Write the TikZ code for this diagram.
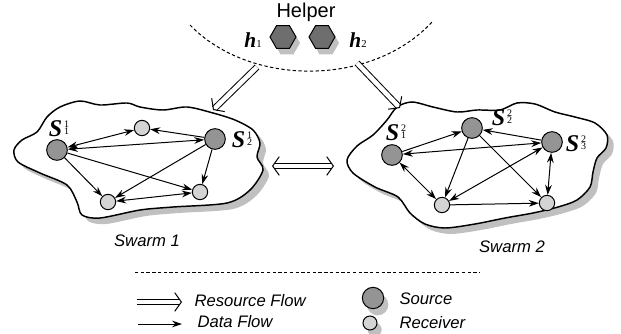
\documentclass[tikz,border=0pt]{standalone}
\usepackage{fontspec}
\setmainfont{Liberation Sans}
\newfontfamily\tnr{Liberation Serif}
\usetikzlibrary{arrows.meta,shapes.geometric,shadows,calc}

\definecolor{srcgray}{RGB}{148,148,148}
\definecolor{rcvgray}{RGB}{212,212,212}
\definecolor{hexgray}{RGB}{110,110,110}
\definecolor{shdgray}{RGB}{192,192,192}

\newcommand{\slab}[2]{{\tnr\fontsize{18}{18}\selectfont\bfseries\itshape S}\kern1.5pt{\tnr\fontsize{7.5}{7.5}\selectfont\raisebox{7pt}{\rlap{#1}}\raisebox{1.5pt}{#2}}}
\newcommand{\hlab}[1]{{\tnr\fontsize{16}{16}\selectfont\bfseries\itshape h}{\tnr\fontsize{8}{8}\selectfont #1}}
% open head of a resource flow arrow, pointing from #1 to #2
\newcommand{\reshead}[2]{\draw[white,-{Straight Barb[length=5pt,width=14pt,color=black]}] ($(#2)!6pt!(#1)$) -- (#2);}

\tikzset{every picture/.style={line width=0.75pt}}
\tikzset{
  source/.style={circle,draw,fill=srcgray,inner sep=0pt,minimum size=15.5pt},
  receiver/.style={circle,draw,fill=rcvgray,inner sep=0pt,minimum size=11.5pt},
  dataflow/.style={-{Stealth[length=7.5pt,width=5pt]}},
  bidataflow/.style={{Stealth[length=7.5pt,width=5pt]}-{Stealth[length=7.5pt,width=5pt]}},
  resflow/.style={double,double distance=3.4pt,shorten >=1.5pt},
  swarm/.style={draw,line width=1.1pt,fill=white,preaction={fill=shdgray,transform canvas={shift={(4.5pt,-4.5pt)}}}},
  hexa/.style={regular polygon,regular polygon sides=6,draw,fill=hexgray,inner sep=0pt,minimum size=19.5pt,general shadow={fill=shdgray,shadow xshift=3pt,shadow yshift=-4.5pt}},
  legshadow/.style={general shadow={fill=shdgray,shadow xshift=3.5pt,shadow yshift=-5pt}},
  dotline/.style={dash pattern=on 2.5pt off 1.8pt},
  caption/.style={inner sep=0.75pt,font=\fontsize{12.5}{12.5}\selectfont\itshape}
}

\begin{document}
\begin{tikzpicture}[x=0.75pt,y=0.75pt,yscale=-1,xscale=1]
\useasboundingbox (0,0) rectangle (621,333);

%Curve Lines: helper boundary
\draw[dotline] (190,25) .. controls (250,87) and (372,87) .. (432,22);
% Text Node
\node[inner sep=0.75pt,font=\fontsize{15}{15}\selectfont] (helper) at (306,12) {Helper};
%Shape: Hexagon
\node[hexa] (hexA) at (283,37) {};
%Shape: Hexagon
\node[hexa] (hexB) at (322,37) {};
% Text Node
\node[inner sep=0.75pt] (labH1) at (253,40) {\hlab{1}};
% Text Node
\node[inner sep=0.75pt] (labH2) at (358,40) {\hlab{2}};

%Shape: Swarm 1
\draw[swarm] plot[smooth cycle] coordinates {(60,107) (80,101) (100,105) (127,103) (140,107) (163,110) (187,107) (213,113) (235,120) (253,130) (260,143) (257,157) (263,170) (250,190) (227,203) (173,207) (140,210) (100,218) (82,215) (77,202) (67,185) (40,173) (18,162) (14,150) (22,140) (37,132) (47,117)};
%Shape: Swarm 2
\draw[swarm] plot[smooth cycle] coordinates {(397,107) (412,102) (433,107) (457,112) (477,110) (500,110) (517,103) (535,104) (555,112) (575,117) (595,123) (607,135) (606,148) (597,158) (593,172) (590,187) (577,200) (558,207) (533,213) (505,218) (475,224) (445,228) (425,224) (410,213) (398,197) (375,187) (353,173) (347,160) (357,146) (373,135) (387,120)};

%Shape: Circle
\node[source] (s11) at (57,150) {};
\node[receiver] (r11) at (142,128) {};
\node[source] (s12) at (215,139) {};
\node[receiver] (r12) at (108,202) {};
\node[receiver] (r13) at (200,192) {};
%Shape: Circle
\node[source] (s21) at (392,155) {};
\node[source] (s22) at (472,128) {};
\node[source] (s23) at (552,142) {};
\node[receiver] (r21) at (442,205) {};
\node[receiver] (r22) at (547,203) {};

% Text Node
\node[inner sep=0pt] (labS11) at (59,129) {\slab{1}{1}};
% Text Node
\node[inner sep=0pt] (labS12) at (242,140) {\slab{1}{2}};
% Text Node
\node[inner sep=0pt] (labS21) at (396,133) {\slab{2}{1}};
% Text Node
\node[inner sep=0pt] (labS22) at (502,118) {\slab{2}{2}};
% Text Node
\node[inner sep=0pt] (labS23) at (576,144) {\slab{2}{3}};

%Straight Lines: swarm 1
\draw[bidataflow] (s11) -- (r11);
\draw[dataflow] (s12) -- (r11);
\draw[bidataflow] (s11) -- (s12);
\draw[dataflow] (s11) -- (r12);
\draw[dataflow] (s11) -- (r13);
\draw[dataflow] (s12) -- (r12);
\draw[dataflow] (s12) -- (r13);
\draw[bidataflow] (r12) -- (r13);
%Straight Lines: swarm 2
\draw[dataflow] (s21) -- (s22);
\draw[dataflow] (s23) -- (s22);
\draw[bidataflow] (s21) -- (s23);
\draw[bidataflow] (s21) -- (r21);
\draw[dataflow] (s22) -- (r21);
\draw[dataflow] (s22) -- (r22);
\draw[bidataflow] (s23) -- (r21);
\draw[bidataflow] (s23) -- (r22);
\draw[dataflow] (r21) -- (r22);

%Double Arrows
\coordinate (rfA1) at (257,67);
\coordinate (rfA2) at (213,110);
\draw[resflow] (rfA1) -- (rfA2);
\reshead{rfA1}{rfA2}
\coordinate (rfB1) at (357,63);
\coordinate (rfB2) at (400,108);
\draw[resflow] (rfB1) -- (rfB2);
\reshead{rfB1}{rfB2}
\coordinate (exL) at (272,166);
\coordinate (exR) at (334,166);
\draw[resflow,shorten <=1.5pt] (exL) -- (exR);
\reshead{exL}{exR}
\reshead{exR}{exL}

% Text Node
\node[caption] (swarmA) at (147,241) {Swarm 1};
% Text Node
\node[caption] (swarmB) at (512,247) {Swarm 2};

%Straight Lines: separator
\coordinate (sepL) at (135,272);
\coordinate (sepR) at (480,272);
\draw[dotline] (sepL) -- (sepR);

%Legend
\coordinate (lgR1) at (137,302);
\coordinate (lgR2) at (182,302);
\draw[resflow] (lgR1) -- (lgR2);
\reshead{lgR1}{lgR2}
\node[caption,anchor=west] (txtRes) at (193,301) {Resource Flow};
\coordinate (lgD1) at (138,324);
\coordinate (lgD2) at (182,324);
\draw[dataflow] (lgD1) -- (lgD2);
\node[caption,anchor=west] (txtData) at (196,322) {Data Flow};
\node[source,legshadow,minimum size=16pt] (legSrc) at (373,298) {};
\node[caption,anchor=west] (txtSrc) at (398,299) {Source};
\node[receiver,legshadow,minimum size=10.5pt] (legRcv) at (370,323) {};
\node[caption,anchor=west] (txtRcv) at (398,323) {Receiver};
\end{tikzpicture}
\end{document}
